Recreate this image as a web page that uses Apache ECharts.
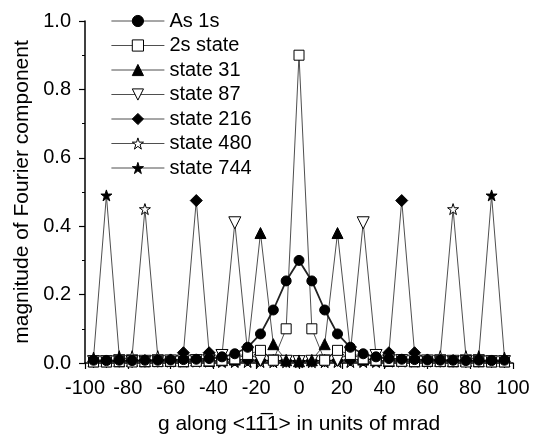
<!DOCTYPE html>
<html>
<head>
<meta charset="utf-8">
<script src="https://cdn.jsdelivr.net/npm/echarts@6/dist/echarts.min.js"></script>
<style>
  html, body { margin: 0; padding: 0; background: #fff; }
  #chart { width: 534px; height: 440px; }
</style>
</head>
<body>
<div id="chart"></div>
<script>
// Momentum grid (mrad) shared by every curve
const gValues = [-96, -90, -84, -78, -72, -66, -60, -54, -48, -42, -36, -30, -24, -18, -12, -6,
  0, 6, 12, 18, 24, 30, 36, 42, 48, 54, 60, 66, 72, 78, 84, 90, 96];

const seriesNames = ['As 1s', '2s state', 'state 31', 'state 87', 'state 216', 'state 480', 'state 744'];

const as1s = [0.008, 0.007, 0.008, 0.007, 0.008, 0.008, 0.009, 0.010, 0.011, 0.013, 0.018, 0.027, 0.046, 0.085, 0.155, 0.24,
  0.30, 0.24, 0.155, 0.085, 0.046, 0.027, 0.018, 0.013, 0.011, 0.010, 0.009, 0.008, 0.008, 0.007, 0.008, 0.007, 0.008];
const state2s = [0.003, 0.003, 0.004, 0.003, 0.004, 0.004, 0.005, 0.004, 0.005, 0.006, 0.008, 0.012, 0.025, 0.037, 0.008, 0.10,
  0.90, 0.10, 0.008, 0.037, 0.025, 0.012, 0.008, 0.006, 0.005, 0.004, 0.005, 0.004, 0.004, 0.003, 0.004, 0.003, 0.003];
const state31 = [0.005, 0.005, 0.005, 0.006, 0.005, 0.006, 0.006, 0.005, 0.007, 0.006, 0.008, 0.010, 0.035, 0.38, 0.055, 0.008,
  0.005, 0.008, 0.055, 0.38, 0.035, 0.010, 0.008, 0.006, 0.007, 0.005, 0.006, 0.006, 0.005, 0.006, 0.005, 0.005, 0.005];
const state87 = [0.004, 0.004, 0.005, 0.004, 0.005, 0.005, 0.006, 0.006, 0.007, 0.008, 0.022, 0.41, 0.030, 0.008, 0.006, 0.005,
  0.004, 0.005, 0.006, 0.008, 0.030, 0.41, 0.022, 0.008, 0.007, 0.006, 0.006, 0.005, 0.005, 0.004, 0.005, 0.004, 0.004];
const state216 = [0.005, 0.006, 0.006, 0.007, 0.007, 0.008, 0.009, 0.030, 0.475, 0.030, 0.012, 0.010, 0.009, 0.008, 0.007, 0.007,
  0.006, 0.007, 0.007, 0.008, 0.009, 0.010, 0.012, 0.030, 0.475, 0.030, 0.009, 0.008, 0.007, 0.007, 0.006, 0.006, 0.005];
const state480 = [0.005, 0.006, 0.008, 0.020, 0.45, 0.020, 0.008, 0.006, 0.005, 0.005, 0.004, 0.004, 0.004, 0.004, 0.003, 0.003,
  0.003, 0.003, 0.003, 0.004, 0.004, 0.004, 0.004, 0.005, 0.005, 0.006, 0.008, 0.020, 0.45, 0.020, 0.008, 0.006, 0.005];
const state744 = [0.016, 0.49, 0.020, 0.007, 0.005, 0.005, 0.004, 0.004, 0.004, 0.004, 0.003, 0.003, 0.003, 0.003, 0.003, 0.003,
  0.003, 0.003, 0.003, 0.003, 0.003, 0.003, 0.003, 0.004, 0.004, 0.004, 0.004, 0.005, 0.005, 0.007, 0.020, 0.49, 0.016];

const xTicks = { min: -100, max: 100, step: 20 };
const yTicks = { min: 0, max: 1.0, step: 0.2 };

const starPath = 'path://M50,2 L61,36 L97,36 L68,57 L79,92 L50,70 L21,92 L32,57 L3,36 L39,36 Z';

function pairs(vals) {
  return gValues.map((g, i) => [g, vals[i]]);
}

const FONT = '"Liberation Sans", Arial, sans-serif';
const hollow = { color: '#ffffff', borderColor: '#000', borderWidth: 1 };
const solid = { color: '#000', borderColor: '#000', borderWidth: 1 };

function makeSeries(name, vals, symbol, size, style, lw, extra) {
  return Object.assign({
    name: name,
    type: 'line',
    data: pairs(vals),
    symbol: symbol,
    symbolSize: size,
    showAllSymbol: true,
    lineStyle: { color: '#222', width: lw },
    itemStyle: style,
    emphasis: { disabled: true },
    animation: false
  }, extra || {});
}

const series = [
  makeSeries(seriesNames[6], state744, starPath, 11, solid, 0.8),
  makeSeries(seriesNames[5], state480, starPath, 11, hollow, 0.8),
  makeSeries(seriesNames[4], state216, 'diamond', 12, solid, 0.8),
  makeSeries(seriesNames[3], state87, 'triangle', 12, hollow, 0.8, { symbolRotate: 180 }),
  makeSeries(seriesNames[2], state31, 'triangle', 11, solid, 0.8),
  makeSeries(seriesNames[1], state2s, 'rect', 10, hollow, 0.8),
  makeSeries(seriesNames[0], as1s, 'circle', 10, solid, 1.8)
];

// legend entries carry their own marker styles
const legendItems = [
  { name: seriesNames[0], itemStyle: solid },
  { name: seriesNames[1], itemStyle: hollow },
  { name: seriesNames[2], itemStyle: solid },
  { name: seriesNames[3], itemStyle: hollow },
  { name: seriesNames[4], itemStyle: solid },
  { name: seriesNames[5], itemStyle: hollow },
  { name: seriesNames[6], itemStyle: solid }
];

const chart = echarts.init(document.getElementById('chart'), null, { renderer: 'canvas' });
chart.setOption({
  backgroundColor: '#fff',
  animation: false,
  textStyle: { fontFamily: FONT },
  grid: { left: 85, right: 21, top: 21, bottom: 71, containLabel: false },
  legend: {
    data: legendItems,
    orient: 'vertical',
    left: 106,
    top: 6,
    itemWidth: 53,
    itemHeight: 14,
    itemGap: 4.5,
    lineStyle: { width: 0.8, color: '#222' },
    itemStyle: { borderWidth: 1 },
    textStyle: { fontFamily: FONT, fontSize: 20, color: '#000' },
    selectedMode: false
  },
  xAxis: {
    type: 'value',
    min: xTicks.min,
    max: xTicks.max,
    interval: xTicks.step,
    name: 'g along <11\u03051> in units of mrad',
    nameLocation: 'middle',
    nameGap: 51,
    nameTextStyle: { fontFamily: FONT, fontSize: 21, color: '#000' },
    axisLine: { show: true, onZero: false, lineStyle: { color: '#000', width: 1.5 } },
    axisTick: { show: true, inside: false, length: 6, lineStyle: { color: '#000', width: 1.2 } },
    minorTick: { show: true, splitNumber: 2, length: 3, lineStyle: { color: '#000', width: 1 } },
    splitLine: { show: false },
    axisLabel: { fontFamily: FONT, fontSize: 20, color: '#000', margin: 15 }
  },
  yAxis: {
    type: 'value',
    min: yTicks.min,
    max: yTicks.max,
    interval: yTicks.step,
    name: 'magnitude of Fourier component',
    nameLocation: 'middle',
    nameGap: 52,
    nameTextStyle: { fontFamily: FONT, fontSize: 21, color: '#000' },
    axisLine: { show: true, onZero: false, lineStyle: { color: '#000', width: 1.5 } },
    axisTick: { show: true, inside: false, length: 6, lineStyle: { color: '#000', width: 1.2 } },
    minorTick: { show: true, splitNumber: 2, length: 3, lineStyle: { color: '#000', width: 1 } },
    splitLine: { show: false },
    axisLabel: { fontFamily: FONT, fontSize: 20, color: '#000', margin: 14, formatter: v => v.toFixed(1) }
  },
  series: series
});
</script>
</body>
</html>
